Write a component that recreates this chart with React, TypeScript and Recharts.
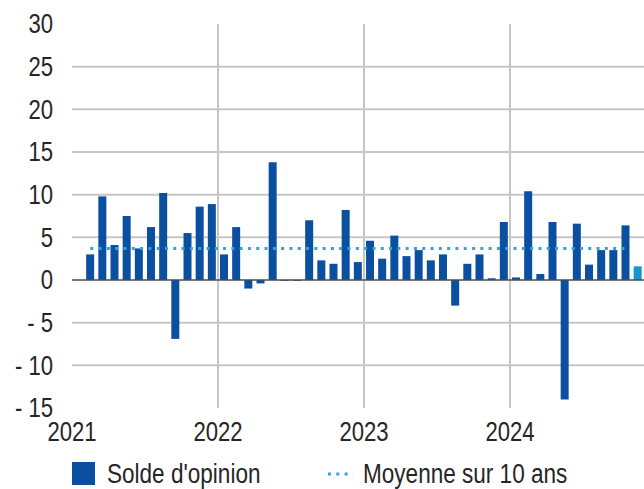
import React from "react";
import {
  ComposedChart,
  Bar,
  Cell,
  XAxis,
  YAxis,
  CartesianGrid,
  ReferenceLine,
} from "recharts";

// categories: monthly, Jan 2021 .. Dec 2024
const years = ["2021", "2022", "2023", "2024"];
const months = ["01", "02", "03", "04", "05", "06", "07", "08", "09", "10", "11", "12"];

// Solde d'opinion (null = no data)
const solde2021 = [null, 3.0, 9.8, 4.1, 7.5, 3.7, 6.2, 10.2, -6.9, 5.5, 8.6, 8.9];
const solde2022 = [3.0, 6.2, -1.0, -0.4, 13.8, -0.1, -0.1, 7.0, 2.3, 1.9, 8.2, 2.1];
const solde2023 = [4.6, 2.5, 5.2, 2.8, 3.5, 2.3, 3.0, -3.0, 1.9, 3.0, 0.2, 6.8];
const solde2024 = [0.3, 10.4, 0.7, 6.8, -14.0, 6.6, 1.8, 3.5, 3.5, 6.4, 1.6, null];

// Moyenne sur 10 ans
const avgValue = 3.7;
const avgStart = "2021-02";
const avgEnd = "2024-10";

const yTicks = [-15, -10, -5, 0, 5, 10, 15, 20, 25, 30];
const gridValues = [-10, -5, 5, 10, 15, 20, 25];
const yearTicks = ["2021-01", "2022-01", "2023-01", "2024-01"];
const yearLines = ["2022-01", "2023-01", "2024-01"];

const categories = years.flatMap((y) => months.map((m) => `${y}-${m}`));
const solde = [...solde2021, ...solde2022, ...solde2023, ...solde2024];
const data = categories.map((month, i) => ({ month, solde: solde[i] }));
const lastIndex = solde.reduce((acc: number, v, i) => (v !== null ? i : acc), 0);

const BLUE = "#0a4fa0";
const TEAL = "#1596d0";
const AVG = "#2aa7dc";
const GRID = "#c6c6c6";
const TEXT = "#262626";
const FONT = "'Liberation Sans', Arial, sans-serif";

const W = 656;
const H = 489;
const Y_AXIS_W = 72;
const BAND = (W - Y_AXIS_W) / categories.length;

const YTick = (props: any) => {
  const { y, payload } = props;
  const v = payload.value as number;
  const label = v < 0 ? `- ${-v}` : `${v}`;
  return (
    <g transform={`translate(53, ${y}) scale(0.82, 1)`}>
      <text x={0} y={0} dy="0.35em" textAnchor="end" fontSize={27} fontFamily={FONT} fill={TEXT}>
        {label}
      </text>
    </g>
  );
};

const XTick = (props: any) => {
  const { x, payload } = props;
  return (
    <g transform={`translate(${x - BAND / 2}, 441) scale(0.82, 1)`}>
      <text x={0} y={0} textAnchor="middle" fontSize={27} fontFamily={FONT} fill={TEXT}>
        {String(payload.value).slice(0, 4)}
      </text>
    </g>
  );
};

// year separators sit on the start of each January band
const verticalLines = ({ offset }: any) =>
  yearLines.map(
    (c) => offset.left + (categories.indexOf(c) * offset.width) / categories.length
  );

const legendText: React.CSSProperties = {
  position: "absolute",
  top: 461,
  fontFamily: FONT,
  fontSize: 27,
  lineHeight: "27px",
  color: TEXT,
  transform: "scale(0.835, 1)",
  transformOrigin: "left center",
  whiteSpace: "nowrap",
};

export default function App() {
  return (
    <div
      style={{
        position: "absolute",
        left: 0,
        top: 0,
        width: 644,
        height: H,
        overflow: "hidden",
        background: "#fff",
      }}
    >
      <ComposedChart
        width={W}
        height={H}
        data={data}
        margin={{ top: 24, right: 0, bottom: 0, left: 0 }}
      >
        <CartesianGrid
          stroke={GRID}
          strokeWidth={2}
          horizontalValues={gridValues}
          verticalCoordinatesGenerator={verticalLines}
        />
        <XAxis
          dataKey="month"
          ticks={yearTicks}
          interval={0}
          tick={<XTick />}
          axisLine={false}
          tickLine={false}
          height={81}
        />
        <YAxis
          domain={[-15, 30]}
          ticks={yTicks}
          interval={0}
          tick={<YTick />}
          axisLine={false}
          tickLine={false}
          width={Y_AXIS_W}
        />
        <Bar dataKey="solde" barSize={8} isAnimationActive={false}>
          {data.map((d, i) => (
            <Cell key={d.month} fill={i === lastIndex ? TEAL : BLUE} />
          ))}
        </Bar>
        <ReferenceLine y={0} stroke="#4d4d4d" strokeWidth={1.5} />
        <ReferenceLine
          segment={[
            { x: avgStart, y: avgValue },
            { x: avgEnd, y: avgValue },
          ]}
          stroke={AVG}
          strokeWidth={3}
          strokeDasharray="3 5.3"
        />
      </ComposedChart>

      <div style={{ position: "absolute", left: 72, top: 462, width: 23, height: 23, background: BLUE }} />
      <div style={{ ...legendText, left: 107 }}>Solde d'opinion</div>
      <svg style={{ position: "absolute", left: 327, top: 470 }} width={26} height={8}>
        <line x1={1} y1={4} x2={26} y2={4} stroke={AVG} strokeWidth={3} strokeDasharray="3 5.3" />
      </svg>
      <div style={{ ...legendText, left: 363 }}>Moyenne sur 10 ans</div>
    </div>
  );
}
